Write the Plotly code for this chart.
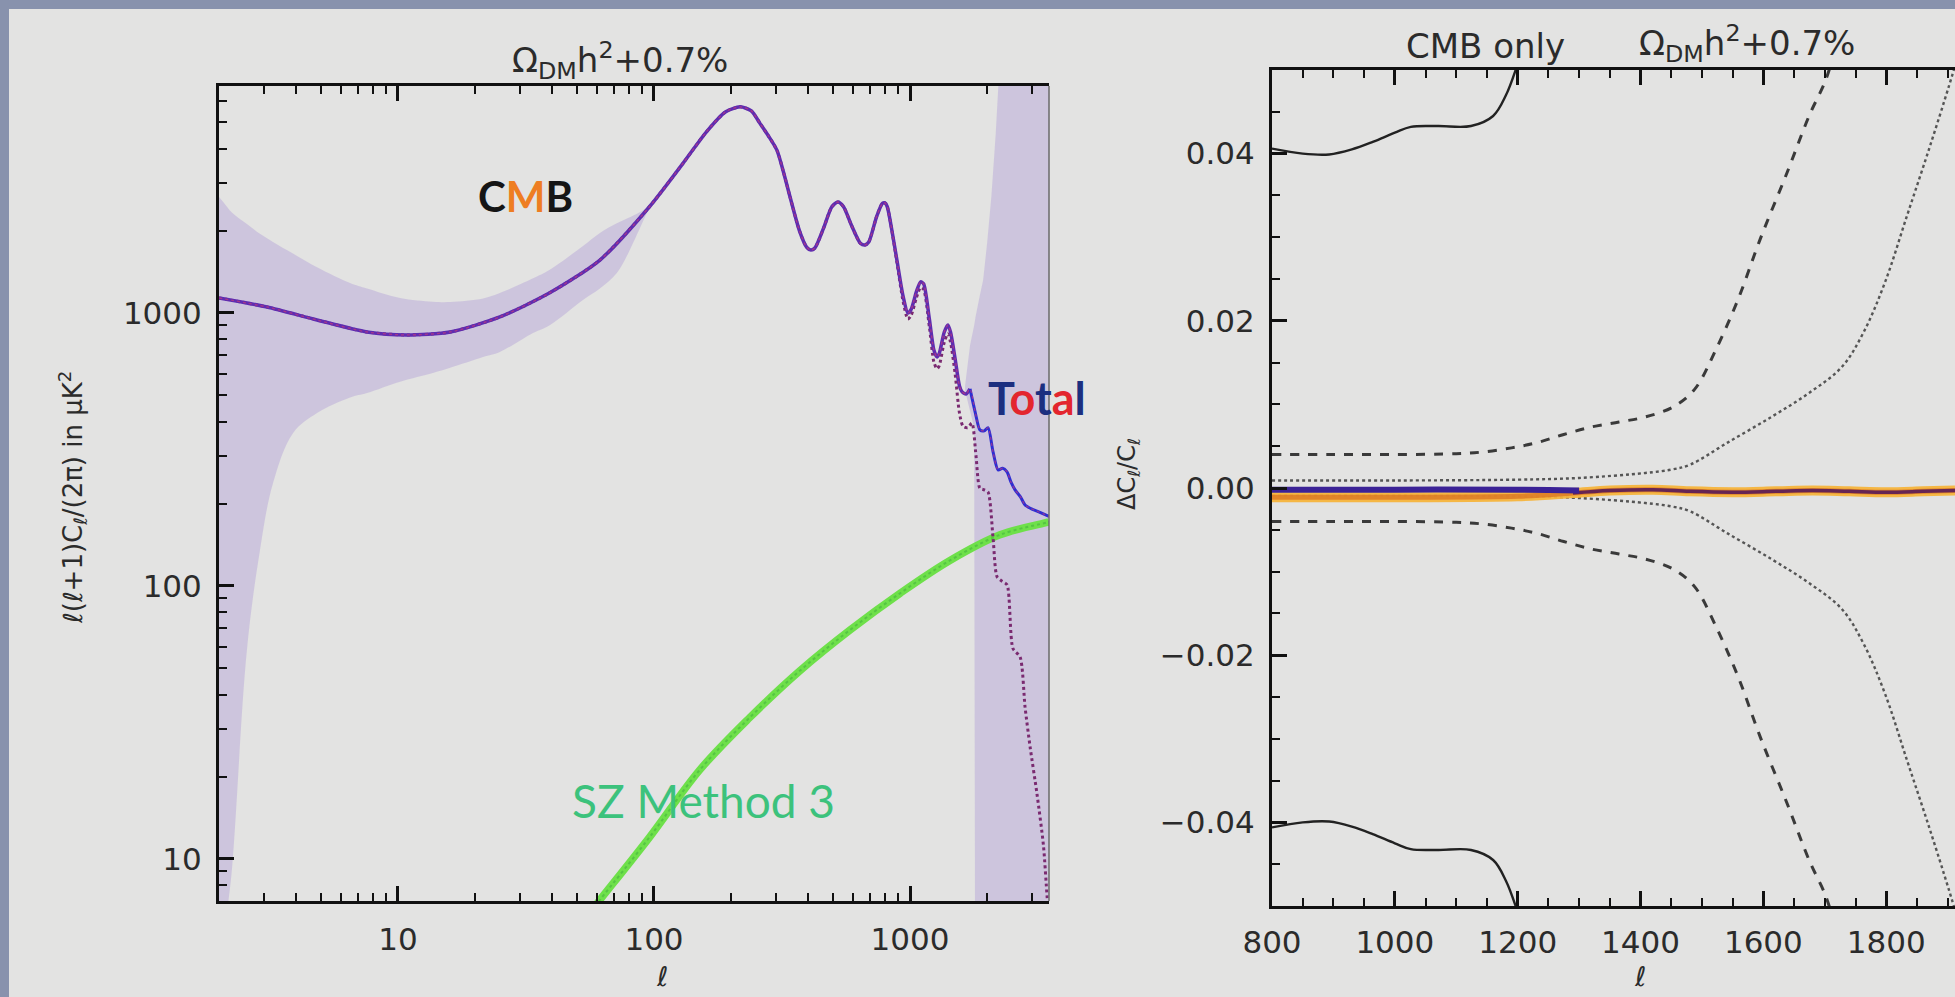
import numpy as np
import plotly.graph_objects as go

W, H = 1955, 997

# ---------------- left panel data (multipole l, l(l+1)C_l/2pi in uK^2) ----------------
total_l = [2, 3.08, 4.83, 7.57, 10.8, 16, 25, 39, 61.5, 96, 130, 160, 190, 217, 240, 259, 280, 302,
           320, 340, 370, 395, 410, 425, 460, 495, 523, 550, 590, 640, 667, 690, 740, 780, 798, 815,
           850, 890, 940, 981, 1010, 1060, 1100, 1130, 1190, 1240, 1275, 1300, 1360, 1406, 1440, 1500,
           1560, 1595, 1655, 1715, 1800, 1875, 1950, 2017, 2110, 2208, 2300, 2393, 2480, 2572, 2700,
           2814, 2970, 3133, 3300, 3490]
total_v = [1135, 1052, 943, 852, 831, 852, 967, 1183, 1563, 2450, 3540, 4600, 5450, 5690, 5500, 4960,
           4450, 3950, 3300, 2660, 2000, 1740, 1700, 1730, 2050, 2450, 2550, 2450, 2100, 1800, 1775,
           1820, 2250, 2520, 2530, 2450, 2000, 1550, 1150, 1000, 1030, 1200, 1300, 1280, 950, 730, 690,
           710, 850, 904, 850, 680, 540, 515, 505, 527, 430, 373, 370, 380, 310, 266, 270, 262, 240,
           225, 212, 198, 192, 188, 184, 180]

cmb_l = [2, 3.08, 4.83, 7.57, 10.8, 16, 25, 39, 61.5, 96, 130, 160, 190, 217, 240, 259, 280, 302,
         320, 340, 370, 395, 410, 425, 460, 495, 523, 550, 590, 640, 667, 690, 740, 780, 798, 815,
         850, 890, 940, 981, 1010, 1060, 1100, 1130, 1190, 1240, 1275, 1300, 1360, 1406, 1440, 1500,
         1560, 1610, 1680, 1745, 1810, 1875, 1950, 2017, 2110, 2188, 2290, 2393, 2524, 2690, 2814,
         2945, 3133, 3320, 3430, 3490]
cmb_v = [1135, 1052, 943, 852, 831, 852, 967, 1183, 1563, 2450, 3540, 4600, 5450, 5690, 5500, 4960,
         4450, 3950, 3300, 2660, 2000, 1740, 1700, 1730, 2050, 2450, 2550, 2450, 2100, 1800, 1775,
         1820, 2250, 2520, 2530, 2450, 2000, 1520, 1100, 950, 980, 1140, 1240, 1220, 890, 660, 625,
         640, 780, 840, 780, 600, 430, 385, 380, 395, 300, 228, 225, 221, 150, 108, 104, 101, 59, 55,
         36, 25.7, 17.3, 11.2, 7.3, 6]

sz_l = [55, 61.5, 96, 151, 237, 372, 583, 914, 1432, 2247, 3430, 3490]
sz_v = [6.2, 7.08, 12.0, 21.2, 33, 49, 69, 94, 124, 154, 171, 172]

band_low_l = [2, 2.1, 2.25, 2.57, 2.89, 3.25, 3.89, 4.83, 6.5, 7.57, 10.2, 13.7, 16, 21.5, 25, 33.7,
              39, 52.8, 61.5, 71.6, 85, 96]
band_low_hi = [2660, 2520, 2330, 2120, 1950, 1820, 1650, 1470, 1288, 1230, 1135, 1100, 1097, 1130,
               1183, 1340, 1437, 1760, 1963, 2130, 2300, 2450]
band_low_lo = [1, 5, 9.3, 58, 135, 238, 363, 430, 490, 509, 560, 603, 630, 690, 720, 845, 900, 1116,
               1230, 1400, 1900, 2450]

band_high_l = [1640, 1715, 1780, 1800, 1870, 1930, 2000, 2080, 2160, 2250, 3490]
band_high_hi = [540, 760, 900, 960, 1150, 1320, 1800, 2700, 4500, 9000, 9000]
band_high_lo = [520, 440, 380, 1, 1, 1, 1, 1, 1, 1, 1]

# ---------------- right panel data (l, Delta C_l / C_l) ----------------
solid_l = [800, 850, 893, 930, 964, 1000, 1026, 1070, 1124, 1160, 1181, 1199, 1210]
solid_v = [0.0406, 0.0400, 0.0399, 0.0405, 0.0414, 0.0425, 0.0432, 0.0433, 0.0433, 0.0445, 0.0470,
           0.0505, 0.053]
dashed_l = [800, 900, 1000, 1100, 1142, 1190, 1230, 1275, 1320, 1365, 1408, 1453, 1488, 1523, 1559,
            1595, 1639, 1675, 1701, 1715]
dashed_v = [0.0040, 0.0040, 0.0040, 0.0041, 0.0043, 0.0048, 0.0054, 0.0064, 0.0073, 0.0079, 0.0085,
            0.0097, 0.0118, 0.0166, 0.0226, 0.0298, 0.0378, 0.0446, 0.0487, 0.052]
dotted_l = [800, 1000, 1200, 1300, 1408, 1450, 1481, 1541, 1613, 1675, 1728, 1763, 1798, 1834, 1870,
            1901, 1912]
dotted_v = [0.0009, 0.0009, 0.0010, 0.0012, 0.0018, 0.0022, 0.0028, 0.0054, 0.0085, 0.0114, 0.0145,
            0.0186, 0.0246, 0.0326, 0.0406, 0.0478, 0.0505]
center_l = [800, 1000, 1200, 1290, 1350, 1420, 1480, 1550, 1620, 1680, 1740, 1800, 1860, 1912]
orange_v = [-0.0011, -0.0011, -0.0010, -0.0006, -0.0003, -0.0002, -0.0004, -0.0005, -0.0004, -0.0003,
            -0.0004, -0.0005, -0.0004, -0.0003]
purple_l = [800, 1000, 1200, 1300]
purple_v = [-0.0002, -0.0002, -0.0002, -0.0003]

x_ticks_left = [10, 100, 1000]
y_ticks_left = [10, 100, 1000]
x_ticks_right = [800, 1000, 1200, 1400, 1600, 1800]
y_ticks_right = [-0.04, -0.02, 0.0, 0.02, 0.04]
y_ticktext_right = ['\u22120.04', '\u22120.02', '0.00', '0.02', '0.04']


def px(x):
    return x / W


def py(y):
    return 1 - y / H


BAND = 'rgba(172,150,212,0.38)'
fig = go.Figure()

bl = np.array(band_low_l)
fig.add_trace(go.Scatter(x=np.concatenate([bl, bl[::-1]]),
                         y=np.concatenate([band_low_hi, band_low_lo[::-1]]),
                         fill='toself', fillcolor=BAND, mode='lines', line=dict(width=0, shape='spline'),
                         hoverinfo='skip', xaxis='x', yaxis='y'))
bh = np.array(band_high_l)
fig.add_trace(go.Scatter(x=np.concatenate([bh, bh[::-1]]),
                         y=np.concatenate([band_high_hi, band_high_lo[::-1]]),
                         fill='toself', fillcolor=BAND, mode='lines', line=dict(width=0),
                         hoverinfo='skip', xaxis='x', yaxis='y'))

fig.add_trace(go.Scatter(x=sz_l, y=sz_v, mode='lines', line=dict(color='#6ee04a', width=7.5, shape='spline'),
                         xaxis='x', yaxis='y'))
fig.add_trace(go.Scatter(x=sz_l, y=sz_v, mode='lines',
                         line=dict(color='rgba(60,170,60,0.5)', width=2, dash='dot', shape='spline'),
                         xaxis='x', yaxis='y'))

fig.add_trace(go.Scatter(x=cmb_l, y=cmb_v, mode='lines',
                         line=dict(color='#7a2a70', width=3, dash='dot', shape='spline', smoothing=0.7),
                         xaxis='x', yaxis='y'))

tl = np.array(total_l)
tv = np.array(total_v)
m1 = tl <= 1715
m2 = tl >= 1715
fig.add_trace(go.Scatter(x=tl[m1], y=tv[m1], mode='lines',
                         line=dict(color='#5f2db0', width=3.5, shape='spline', smoothing=0.7),
                         xaxis='x', yaxis='y'))
fig.add_trace(go.Scatter(x=tl[m2], y=tv[m2], mode='lines',
                         line=dict(color='#2e2ed2', width=3, shape='spline', smoothing=0.7),
                         xaxis='x', yaxis='y'))
fig.add_trace(go.Scatter(x=tl, y=tv, mode='lines',
                         line=dict(color='rgba(225,60,110,0.55)', width=1.3, dash='dot', shape='spline',
                                   smoothing=0.7),
                         xaxis='x', yaxis='y'))

sl = np.array(solid_l); sv = np.array(solid_v)
dl = np.array(dashed_l); dv = np.array(dashed_v)
ol = np.array(dotted_l); ov = np.array(dotted_v)
for sign in (1, -1):
    fig.add_trace(go.Scatter(x=sl, y=sign * sv, mode='lines',
                             line=dict(color='#222', width=2.4, shape='spline'), xaxis='x2', yaxis='y2'))
    fig.add_trace(go.Scatter(x=dl, y=sign * dv, mode='lines',
                             line=dict(color='#3a3a3a', width=3, dash='dash', shape='spline'),
                             xaxis='x2', yaxis='y2'))
    fig.add_trace(go.Scatter(x=ol, y=sign * ov, mode='lines',
                             line=dict(color='#555', width=2.4, dash='dot', shape='spline'),
                             xaxis='x2', yaxis='y2'))

fig.add_trace(go.Scatter(x=center_l, y=orange_v, mode='lines',
                         line=dict(color='rgba(245,180,60,0.95)', width=10, shape='spline'),
                         xaxis='x2', yaxis='y2'))
fig.add_trace(go.Scatter(x=center_l, y=orange_v, mode='lines',
                         line=dict(color='rgba(215,110,30,0.7)', width=5, shape='spline'),
                         xaxis='x2', yaxis='y2'))
cl = np.array(center_l); cv = np.array(orange_v)
mr = cl >= 1290
fig.add_trace(go.Scatter(x=cl[mr], y=cv[mr], mode='lines',
                         line=dict(color='rgba(80,20,90,0.85)', width=3.5, shape='spline'),
                         xaxis='x2', yaxis='y2'))
fig.add_trace(go.Scatter(x=purple_l, y=purple_v, mode='lines',
                         line=dict(color='#3b2296', width=6, shape='spline'),
                         xaxis='x2', yaxis='y2'))

# ---------------- axes ----------------
TICKFONT = dict(family='DejaVu Sans', size=31, color='#2b2b2b')
minor_x = [m * 10 ** e for e in range(0, 4) for m in range(2, 10) if 2 <= m * 10 ** e <= 3490]
minor_y = [m * 10 ** e for e in range(0, 4) for m in range(2, 10) if 7 <= m * 10 ** e <= 6800]
common = dict(showline=True, linecolor='#111', linewidth=3, ticks='inside', ticklen=15, tickwidth=2.5,
              tickcolor='#111', showgrid=False, zeroline=False, tickfont=TICKFONT, automargin=False)

fig.update_layout(
    width=W, height=H,
    margin=dict(l=0, r=0, t=0, b=0, autoexpand=False),
    paper_bgcolor='#e3e3e2', plot_bgcolor='rgba(0,0,0,0)',
    showlegend=False,
    xaxis=dict(type='log', range=[np.log10(2), np.log10(3490)], domain=[px(219), px(1049)], anchor='y',
               mirror='ticks', tickvals=x_ticks_left, ticktext=[str(v) for v in x_ticks_left],
               minor=dict(tickvals=minor_x, ticks='inside', ticklen=8, tickwidth=2, tickcolor='#111'),
               ticklabelstandoff=9, **common),
    yaxis=dict(type='log', range=[0.846, 3.8315], domain=[py(901), py(86)], anchor='x',
               mirror=False, tickvals=y_ticks_left, ticktext=[str(v) for v in y_ticks_left],
               minor=dict(tickvals=minor_y, ticks='inside', ticklen=8, tickwidth=2, tickcolor='#111'),
               ticklabelstandoff=8, **common),
    xaxis2=dict(range=[800, 1912], domain=[px(1272), 1.0], anchor='y2', mirror='ticks',
                tickvals=x_ticks_right, ticktext=[str(v) for v in x_ticks_right],
                minor=dict(dtick=50, tick0=800, ticks='inside', ticklen=8, tickwidth=2, tickcolor='#111'),
                ticklabelstandoff=7, **common),
    yaxis2=dict(range=[-0.05, 0.05], domain=[py(906), py(70)], anchor='x2', mirror=False,
                tickvals=y_ticks_right, ticktext=y_ticktext_right,
                minor=dict(dtick=0.005, tick0=0, ticks='inside', ticklen=8, tickwidth=2, tickcolor='#111'),
                ticklabelstandoff=8, **common),
)

fig.add_shape(type='rect', xref='paper', yref='paper', x0=0, x1=1, y0=py(9), y1=1,
              fillcolor='#8892ad', line=dict(width=0), layer='below')
fig.add_shape(type='rect', xref='paper', yref='paper', x0=0, x1=px(9), y0=0, y1=1,
              fillcolor='#8892ad', line=dict(width=0), layer='below')
fig.add_shape(type='line', xref='paper', yref='paper', x0=px(1049), x1=px(1049), y0=py(901), y1=py(86),
              line=dict(color='#6a6a6a', width=1.5))

TXT = dict(family='DejaVu Sans', color='#2b2b2b')
ann = [
    dict(x=px(620), y=py(60), text='\u03a9<sub>DM</sub>h<sup>2</sup>+0.7%', font=dict(size=34, **TXT)),
    dict(x=px(1485), y=py(46), text='CMB only', font=dict(size=34, **TXT)),
    dict(x=px(1747), y=py(44), text='\u03a9<sub>DM</sub>h<sup>2</sup>+0.7%', font=dict(size=34, **TXT)),
    dict(x=px(72), y=py(498), text='\u2113(\u2113+1)C<sub>\u2113</sub>/(2\u03c0) in \u03bcK<sup>2</sup>',
         textangle=-90, font=dict(size=26, **TXT)),
    dict(x=px(1128), y=py(474), text='\u0394C<sub>\u2113</sub>/C<sub>\u2113</sub>', textangle=-90,
         font=dict(size=24, **TXT)),
    dict(x=px(662), y=py(976), text='\u2113', font=dict(size=27, **TXT)),
    dict(x=px(1640), y=py(976), text='\u2113', font=dict(size=27, **TXT)),
    dict(x=px(525), y=py(196),
         text="<b><span style='color:#151515'>C</span><span style='color:#ee7d22'>M</span>"
              "<span style='color:#151515'>B</span></b>",
         font=dict(family='Lato', size=42)),
    dict(x=px(1037), y=py(398),
         text="<b><span style='color:#1c2f80'>T</span><span style='color:#e3262e'>o</span>"
              "<span style='color:#1c2f80'>t</span><span style='color:#e3262e'>a</span>"
              "<span style='color:#1c2f80'>l</span></b>",
         font=dict(family='Lato', size=45)),
    dict(x=px(703), y=py(800), text='SZ Method 3', font=dict(family='Lato', size=46, color='#3cc27c')),
]
for a in ann:
    fig.add_annotation(xref='paper', yref='paper', showarrow=False, xanchor='center', yanchor='middle', **a)

fig.write_html('out.html', config={'displayModeBar': False},
               post_script="document.body.style.margin='0px';")
